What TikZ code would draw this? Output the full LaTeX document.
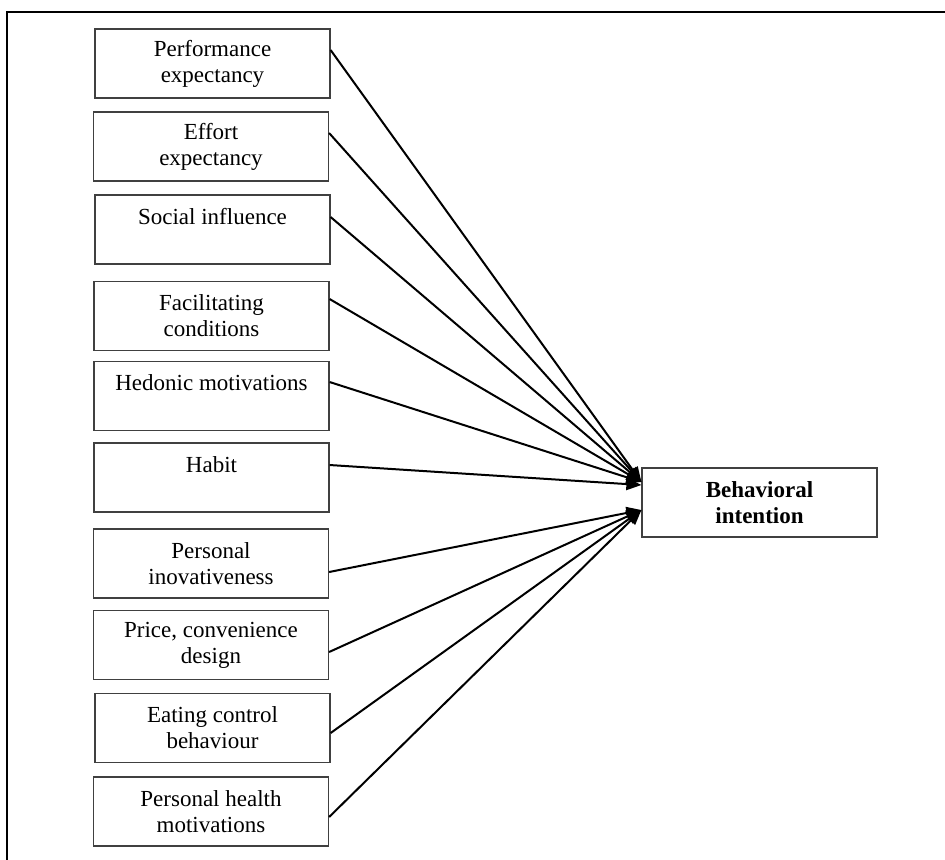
\documentclass[tikz,border=0pt]{standalone}
\usepackage{amsmath}
\usepackage[]{xcolor}
\usepackage{fontspec}
\setmainfont{Liberation Serif}
\usetikzlibrary{arrows.meta}

\begin{document}
\begin{tikzpicture}[x=0.5pt, y=-0.5pt,
    factor/.style={draw=black!75, line width=0.6pt, minimum width=117.5pt, minimum height=34.5pt,
      inner sep=0pt, align=center, font=\fontsize{11.5}{13}\selectfont},
    target/.style={factor, font=\fontsize{11.5}{13}\selectfont\bfseries},
    link/.style={line width=1pt, -{Triangle[length=7.5pt,width=6pt]}}]
 	\useasboundingbox (0,0) rectangle (945,859);
 	\draw[line width=0.6pt] (7,880) |- (960,12);
 	\node[factor](Perf) at (212.5,63.5) {Performance\\expectancy};
 	\node[factor](Effort) at (211,146.5) {Effort\\expectancy};
 	\node[factor](Social) at (212.5,229.5) {Social influence\\\mbox{}};
 	\node[factor](Facil) at (211.5,316) {Facilitating\\conditions};
 	\node[factor](Hedon) at (211.5,396) {Hedonic motivations\\\mbox{}};
 	\node[factor](Habit) at (211.5,477.5) {Habit\\\mbox{}};
 	\node[factor](Innov) at (211,563.5) {Personal\\inovativeness};
 	\node[factor](Price) at (211,645) {Price, convenience\\design};
 	\node[factor](Eat) at (212.5,728) {Eating control\\behaviour};
 	\node[factor](Health) at (211,811.5) {Personal health\\motivations};
 	\node[target](BI) at (759.5,502.5) {Behavioral\\intention};
 	\draw[link] ([yshift=6.75pt]Perf.east) -- ([yshift=10.25pt]BI.west);
 	\draw[link] ([yshift=6.75pt]Effort.east) -- ([yshift=10.25pt]BI.west);
 	\draw[link] ([yshift=6.25pt]Social.east) -- ([yshift=10.25pt]BI.west);
 	\draw[link] ([yshift=8.5pt]Facil.east) -- ([yshift=10.25pt]BI.west);
 	\draw[link] ([yshift=7pt]Hedon.east) -- ([yshift=10.25pt]BI.west);
 	\draw[link] ([yshift=6.25pt]Habit.east) -- ([yshift=8.75pt]BI.west);
 	\draw[link] ([yshift=-4.25pt]Innov.east) -- ([yshift=-3.75pt]BI.west);
 	\draw[link] ([yshift=-3.5pt]Price.east) -- ([yshift=-3.75pt]BI.west);
 	\draw[link] ([yshift=-2.5pt]Eat.east) -- ([yshift=-3.75pt]BI.west);
 	\draw[link] ([yshift=-2.75pt]Health.east) -- ([yshift=-3.75pt]BI.west);
 	\end{tikzpicture}
\end{document}
